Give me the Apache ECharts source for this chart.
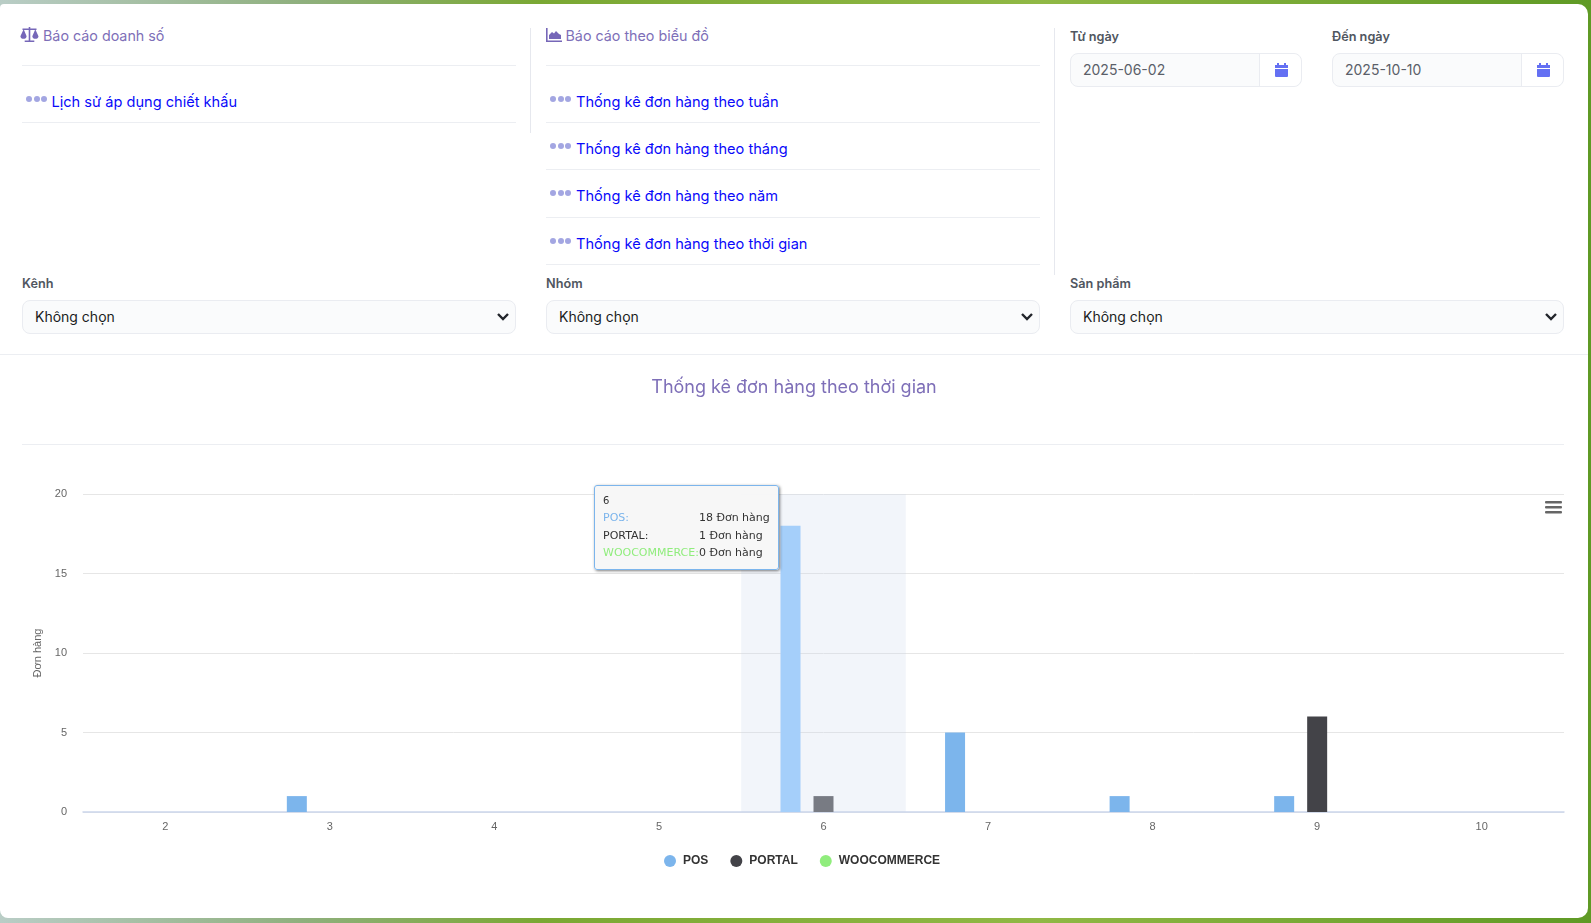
<!DOCTYPE html>
<html lang="vi">
<head>
<meta charset="utf-8">
<title>Thống kê đơn hàng theo thời gian</title>
<script src="https://cdn.jsdelivr.net/npm/echarts@6/dist/echarts.min.js"></script>
<style>
*{box-sizing:border-box}
html,body{margin:0;padding:0;width:1591px;height:923px;overflow:hidden;font-family:Inter,"Noto Sans",sans-serif}
body{position:relative;background:linear-gradient(90deg,#b9cdc6 0,#8fb07e 300px,#7aa833 540px,#90b845 1040px,#5f9a25 1591px)}
#card{position:absolute;left:0;top:4px;width:1588px;height:914px;background:#fff;border-radius:4px 10px 10px 8px}
.abs{position:absolute}
.head{position:absolute;top:26px;font-size:14.3px;color:#7e6fb8;white-space:nowrap;line-height:20px}
.head svg{position:absolute;top:2px;width:18px;height:16px;fill:#7667b8}
.rule{position:absolute;height:1px;background:#eceef2}
.v{position:absolute;width:1px;background:#e6e8ee}
.item{position:absolute;color:#0a0afa;font-size:14.6px;line-height:20px;white-space:nowrap}
.dots{position:absolute;font-size:0}
.dots i{display:inline-block;width:6px;height:6px;border-radius:50%;background:#a3a6e2;margin-right:1.5px}
label{position:absolute;font-size:12.7px;font-weight:600;color:#505660;line-height:16px;white-space:nowrap}
.field{position:absolute;height:34px;background:#fafbfc;border:1px solid #eaecf1;border-radius:8px;font-size:14px;line-height:32px;white-space:nowrap}
.sel{color:#1b1d22;padding-left:12px}
.sel svg{position:absolute;right:6px;top:11px;width:12px;height:10px;fill:none;stroke:#22252b;stroke-width:2.4}
.date{color:#5a5f69;padding-left:12px}
.addon{position:absolute;right:0;top:0;bottom:0;width:42px;background:#fff;border-left:1px solid #eaecf1;border-radius:0 8px 8px 0}
.addon svg{position:absolute;left:15px;top:9px;width:13px;height:14px;fill:#6470f3}
#chart{position:absolute;left:0;top:355px;width:1588px;height:563px}
</style>
</head>
<body>
<div id="card"></div>

<svg class="abs" style="left:20px;top:27px;width:19px;height:16px;fill:#7667b8" viewBox="0 0 19 16"><path d="M8.7 0h1.6v1.6h6.2v1.4h-.9l2.9 6.2c0 1.7-1.5 2.6-3.1 2.6s-3.1-.9-3.1-2.6L15 3h-4.7v10.4h4v1.6H4.7v-1.6h4V3H4l2.6 6.2c0 1.7-1.5 2.6-3.1 2.6S.4 10.9.4 9.2L3.3 3h-.8V1.6h6.2z"/></svg>
<div class="head" style="left:43px">Báo cáo doanh số</div>
<div class="rule" style="left:22px;top:65px;width:494px"></div>
<div class="dots" style="left:26px;top:96px"><i></i><i></i><i></i></div>
<div class="item" style="left:51.5px;top:92px">Lịch sử áp dụng chiết khấu</div>
<div class="rule" style="left:22px;top:122px;width:494px"></div>

<div class="v" style="left:530px;top:28px;height:105px"></div>
<svg class="abs" style="left:546px;top:28px;width:16px;height:14px;fill:#7667b8" viewBox="0 0 16 14"><path d="M0 0h1.6v12.4H16V14H0z"/><path d="M3 11V7l3-3 2 1.5L10 3l3 3 2 1v4z"/></svg>
<div class="head" style="left:565.5px">Báo cáo theo biểu đồ</div>
<div class="rule" style="left:546px;top:65px;width:494px"></div>
<div class="dots" style="left:550px;top:96px"><i></i><i></i><i></i></div>
<div class="item" style="left:576px;top:92px">Thống kê đơn hàng theo tuần</div>
<div class="rule" style="left:546px;top:122px;width:494px"></div>
<div class="dots" style="left:550px;top:143px"><i></i><i></i><i></i></div>
<div class="item" style="left:576px;top:139px">Thống kê đơn hàng theo tháng</div>
<div class="rule" style="left:546px;top:169px;width:494px"></div>
<div class="dots" style="left:550px;top:190px"><i></i><i></i><i></i></div>
<div class="item" style="left:576px;top:186px">Thống kê đơn hàng theo năm</div>
<div class="rule" style="left:546px;top:217px;width:494px"></div>
<div class="dots" style="left:550px;top:238px"><i></i><i></i><i></i></div>
<div class="item" style="left:576px;top:234px">Thống kê đơn hàng theo thời gian</div>
<div class="rule" style="left:546px;top:264px;width:494px"></div>

<div class="v" style="left:1054px;top:28px;height:247px"></div>
<label style="left:1070px;top:29px">Từ ngày</label>
<div class="field date" style="left:1070px;top:53px;width:232px">2025-06-02<div class="addon"><svg viewBox="0 0 13 14"><path d="M2 0h2v2h5V0h2v2h2v3H0V2h2zM0 6h13v7a1 1 0 0 1-1 1H1a1 1 0 0 1-1-1z"/></svg></div></div>
<label style="left:1332px;top:29px">Đến ngày</label>
<div class="field date" style="left:1332px;top:53px;width:232px">2025-10-10<div class="addon"><svg viewBox="0 0 13 14"><path d="M2 0h2v2h5V0h2v2h2v3H0V2h2zM0 6h13v7a1 1 0 0 1-1 1H1a1 1 0 0 1-1-1z"/></svg></div></div>

<label style="left:22px;top:276px">Kênh</label>
<div class="field sel" style="left:22px;top:300px;width:494px">Không chọn<svg viewBox="0 0 12 10"><path d="M1 2l5 5 5-5"/></svg></div>
<label style="left:546px;top:276px">Nhóm</label>
<div class="field sel" style="left:546px;top:300px;width:494px">Không chọn<svg viewBox="0 0 12 10"><path d="M1 2l5 5 5-5"/></svg></div>
<label style="left:1070px;top:276px">Sản phẩm</label>
<div class="field sel" style="left:1070px;top:300px;width:494px">Không chọn<svg viewBox="0 0 12 10"><path d="M1 2l5 5 5-5"/></svg></div>

<div class="rule" style="left:0;top:354px;width:1588px"></div>
<div class="rule" style="left:22px;top:444px;width:1542px"></div>

<div id="chart"></div>

<script>
const chartTitle = 'Thống kê đơn hàng theo thời gian';
const yAxisName = 'Đơn hàng';
const categories = ['2','3','4','5','6','7','8','9','10'];
const seriesNames = ['POS','PORTAL','WOOCOMMERCE'];
const posValues = [0,1,0,0,18,5,1,1,0];
const portalValues = [0,0,0,0,1,0,0,6,0];
const wooValues = [0,0,0,0,0,0,0,0,0];
const seriesColors = ['#7cb5ec','#434348','#90ed7d'];
const hoverColors = ['#99ccff','#5c5c61','#a8f59a'];
const activeIndex = 4;
const unit = 'Đơn hàng';

const chart = echarts.init(document.getElementById('chart'), null, {renderer:'canvas'});
const allValues = [posValues, portalValues, wooValues];

chart.setOption({
  animation:false,
  textStyle:{fontFamily:'"Liberation Sans",Arial,sans-serif'},
  title:{
    text:chartTitle,left:'center',top:19,
    textStyle:{fontFamily:'Inter,sans-serif',fontSize:18,fontWeight:'normal',color:'#7e6fb8'}
  },
  grid:{left:83,right:24,top:139,bottom:106,containLabel:false},
  legend:{
    data:seriesNames,left:659,top:495,icon:'circle',itemWidth:12,itemHeight:12,itemGap:22,
    selectedMode:false,
    textStyle:{fontFamily:'"Liberation Sans",Arial,sans-serif',fontSize:12,fontWeight:'bold',color:'#333',padding:[0,0,0,2]}
  },
  tooltip:{
    trigger:'axis',
    alwaysShowContent:true,
    axisPointer:{type:'shadow',shadowStyle:{color:'rgba(204,214,235,0.25)'}},
    backgroundColor:'rgba(247,247,247,0.97)',
    borderColor:'#7cb5ec',borderWidth:1,borderRadius:3,padding:[7,8],
    extraCssText:'box-shadow:1px 1px 3px rgba(0,0,0,.5);',
    textStyle:{fontFamily:'"DejaVu Sans",sans-serif',fontSize:11,color:'#333'},
    position:function(){return [593.5,130];},
    formatter:function(params){
      let rows = '<div style="font-size:10px;line-height:16px;height:16px">'+params[0].axisValue+'</div>';
      rows += '<table style="border-collapse:collapse;font-size:11px;line-height:17.7px">';
      params.forEach(function(p,i){
        rows += '<tr><td style="padding:0;color:'+(i===1?'#333':p.color)+'">'+p.seriesName+':</td>'+
                '<td style="padding:0;color:#333;white-space:nowrap">'+p.value+' '+unit+'</td></tr>';
      });
      return rows+'</table>';
    }
  },
  xAxis:{
    type:'category',data:categories,
    axisLine:{lineStyle:{color:'#ccd6eb',width:1.5}},
    axisTick:{show:false},
    axisLabel:{fontSize:11,color:'#666',margin:9}
  },
  yAxis:{
    type:'value',min:0,max:20,interval:5,
    name:yAxisName,nameLocation:'middle',nameGap:39,
    nameTextStyle:{fontSize:11,color:'#666'},
    axisLine:{show:false},axisTick:{show:false},
    axisLabel:{fontSize:11,color:'#666',margin:16},
    splitLine:{lineStyle:{color:'#e6e6e6',width:1}}
  },
  series:allValues.map(function(vals,i){
    return {
      name:seriesNames[i],type:'bar',data:vals,
      barWidth:20,barGap:'65%',
      itemStyle:{color:seriesColors[i]},
      emphasis:{focus:'none',itemStyle:{color:hoverColors[i]}}
    };
  }),
  graphic:[{
    type:'group',right:26,top:146,
    children:[0,1,2].map(function(k){
      return {type:'rect',shape:{x:0,y:k*5,width:17,height:2.6,r:1},style:{fill:'#666'}};
    })
  }]
});

chart.dispatchAction({type:'showTip',seriesIndex:0,dataIndex:activeIndex});
chart.dispatchAction({type:'highlight',seriesIndex:[0,1,2],dataIndex:activeIndex});
</script>
</body>
</html>
